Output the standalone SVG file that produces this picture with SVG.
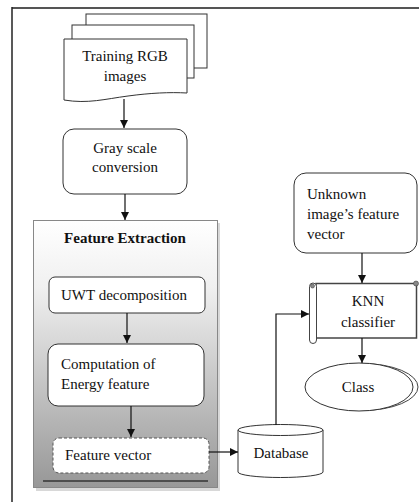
<svg xmlns="http://www.w3.org/2000/svg" width="419" height="502" viewBox="0 0 419 502" font-family="'Liberation Serif', 'Times New Roman', serif">
  <defs>
    <marker id="arrow" viewBox="0 0 10 10" refX="10" refY="5" markerWidth="8" markerHeight="8" markerUnits="userSpaceOnUse" orient="auto">
      <path d="M0,0 L10,5 L0,10 Z" fill="#111"/>
    </marker>
    <linearGradient id="fxGrad" x1="0" y1="0" x2="0" y2="1">
      <stop offset="0" stop-color="#ffffff"/>
      <stop offset="0.25" stop-color="#f0f0f0"/>
      <stop offset="1" stop-color="#979797"/>
    </linearGradient>
  </defs>
  <style>
    text { font-family: "Liberation Serif", "Times New Roman", serif; font-size: 15px; fill: #111; }
    .box { fill: #fff; stroke: #333; stroke-width: 1; }
    .conn { fill: none; stroke: #111; stroke-width: 1.2; }
    .mid { text-anchor: middle; }
  </style>

  <rect width="419" height="502" fill="#fff"/>

  <!-- page frame -->
  <g id="frame">
    <line x1="12" y1="8" x2="419" y2="8" stroke="#555" stroke-width="2"/>
    <line x1="12" y1="7" x2="12" y2="502" stroke="#222" stroke-width="1.5"/>
  </g>

  <!-- stacked documents -->
  <g id="training-images">
    <rect class="box" x="86" y="14" width="121" height="54"/>
    <rect class="box" x="72" y="25" width="122" height="53"/>
    <path class="box" d="M64,39 H187 V93 C170,92 150,93 128,96 C105,99 88,104 64,100 Z"/>
    <text class="mid" x="125" y="61">Training RGB</text>
    <text class="mid" x="125" y="81">images</text>
  </g>

  <g id="gray-scale">
    <rect class="box" x="63" y="129" width="124" height="65" rx="11"/>
    <text class="mid" x="125" y="153">Gray scale</text>
    <text class="mid" x="125" y="172">conversion</text>
  </g>

  <!-- feature extraction panel -->
  <g id="feature-extraction">
    <rect x="36" y="223" width="184" height="268" fill="#c8c8c8" opacity="0.7"/>
    <rect x="33.5" y="220.5" width="184" height="267" fill="url(#fxGrad)" stroke="#888" stroke-width="1"/>
    <text class="mid" x="125" y="243" font-weight="bold">Feature Extraction</text>
    <line x1="43" y1="481" x2="208" y2="481" stroke="#333" stroke-width="1.5"/>
  </g>

  <g id="uwt">
    <rect class="box" x="49" y="277" width="156" height="36" rx="6"/>
    <text x="61" y="300">UWT decomposition</text>
  </g>

  <g id="energy">
    <rect class="box" x="48" y="344" width="156" height="62" rx="10"/>
    <text x="61" y="369">Computation of</text>
    <text x="61" y="389">Energy feature</text>
  </g>

  <g id="feature-vector">
    <rect x="53" y="438" width="156" height="35" rx="6" fill="#fff" stroke="#555" stroke-width="1" stroke-dasharray="3,2"/>
    <text x="65" y="460">Feature vector</text>
  </g>

  <g id="database">
    <path class="box" d="M238,430 V472 A42.5,5.5 0 0 0 323,472 V430"/>
    <ellipse class="box" cx="280.5" cy="430" rx="42.5" ry="5.5"/>
    <text class="mid" x="281" y="458">Database</text>
  </g>

  <g id="unknown-vector">
    <rect class="box" x="294" y="173" width="123" height="80" rx="12"/>
    <text x="307" y="199">Unknown</text>
    <text x="307" y="219">image’s feature</text>
    <text x="307" y="239">vector</text>
  </g>

  <g id="knn">
    <rect x="316" y="283.5" width="100.5" height="54.5" fill="#fff" stroke="#444" stroke-width="1.5"/>
    <rect x="309.5" y="283" width="7" height="60.5" rx="3.5" fill="#fff" stroke="#444" stroke-width="1"/>
    <circle cx="312.5" cy="286" r="2" fill="#888" stroke="#444" stroke-width="0.6"/>
    <circle cx="416" cy="283.5" r="2.5" fill="#888" stroke="#444" stroke-width="0.6"/>
    <text class="mid" x="368" y="306">KNN</text>
    <text class="mid" x="368" y="327">classifier</text>
  </g>

  <g id="class">
    <ellipse cx="362" cy="387" rx="56" ry="23.5" fill="none" stroke="#444" stroke-width="1"/>
    <ellipse cx="359" cy="387" rx="54" ry="24" fill="#fff" stroke="#333" stroke-width="1"/>
    <text class="mid" x="358" y="392">Class</text>
  </g>

  <!-- connectors -->
  <g id="connectors">
    <line class="conn" x1="124" y1="99" x2="124" y2="128" marker-end="url(#arrow)"/>
    <line class="conn" x1="125" y1="194" x2="125" y2="220" marker-end="url(#arrow)"/>
    <line class="conn" x1="127" y1="313" x2="127" y2="343" marker-end="url(#arrow)"/>
    <line class="conn" x1="131" y1="406" x2="131" y2="437" marker-end="url(#arrow)"/>
    <line class="conn" x1="209" y1="452" x2="238" y2="452" marker-end="url(#arrow)"/>
    <polyline class="conn" points="276,425 276,314 309,314" marker-end="url(#arrow)"/>
    <line class="conn" x1="362" y1="253" x2="362" y2="283" marker-end="url(#arrow)"/>
    <line class="conn" x1="362" y1="338" x2="362" y2="363" marker-end="url(#arrow)"/>
  </g>
</svg>
